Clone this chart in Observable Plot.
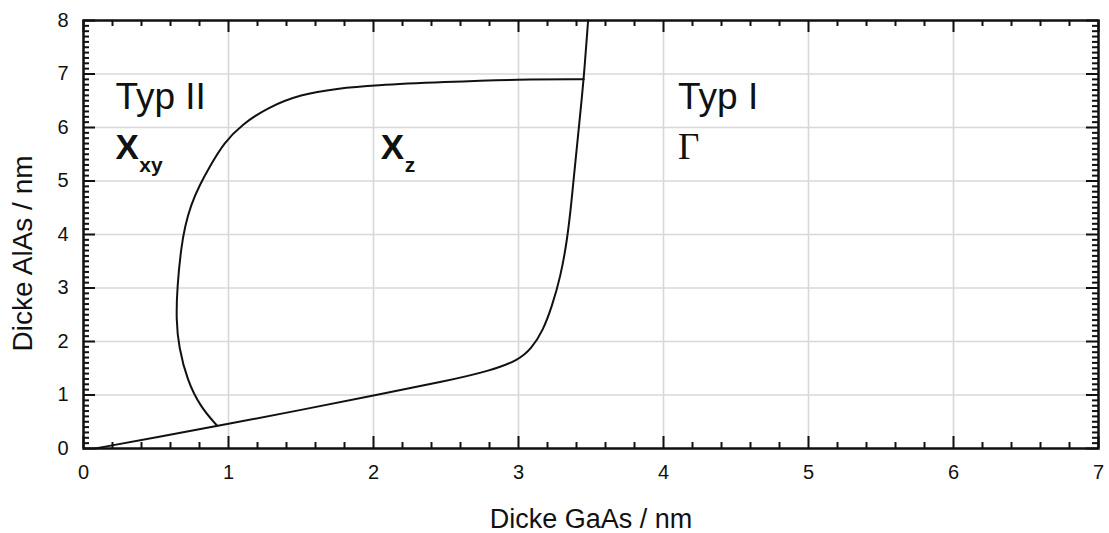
<!DOCTYPE html>
<html>
<head>
<meta charset="utf-8">
<script src="https://cdn.jsdelivr.net/npm/d3@7"></script>
<script src="https://cdn.jsdelivr.net/npm/@observablehq/plot@0.6"></script>
<style>
  html, body { margin: 0; padding: 0; background: #fff; }
  #chart svg { display: block; }
</style>
</head>
<body>
<div id="chart"></div>
<script>
// ---- data ----
const xTicks = [0, 1, 2, 3, 4, 5, 6, 7];
const yTicks = [0, 1, 2, 3, 4, 5, 6, 7, 8];
const xTitle = "Dicke GaAs / nm";
const yTitle = "Dicke AlAs / nm";

// Boundary Xxy / Xz (from junction on the lower curve up and over to the right)
const upperX = [0.92, 0.807, 0.715, 0.657, 0.639, 0.646, 0.674, 0.70, 0.74, 0.80, 0.87, 0.97, 1.09, 1.267, 1.497, 1.75, 2.0, 2.485, 3.01, 3.45];
const upperY = [0.43, 0.775, 1.275, 1.90, 2.40, 3.02, 3.77, 4.15, 4.55, 4.92, 5.27, 5.72, 6.05, 6.37, 6.62, 6.73, 6.79, 6.85, 6.90, 6.90];

// Boundary Typ II / Typ I (lower line, bend, steep rise)
const lowerX = [0.08, 0.5, 1.0, 1.5, 2.0, 2.5, 2.8, 3.0, 3.09, 3.17, 3.23, 3.29, 3.336, 3.365, 3.39, 3.42, 3.45, 3.48];
const lowerY = [0.0, 0.21, 0.46, 0.72, 0.99, 1.26, 1.45, 1.65, 1.87, 2.21, 2.65, 3.21, 3.90, 4.60, 5.30, 6.10, 6.90, 8.0];

// Region labels
const typLabels = ["Typ II", "Typ I"];
const typX = [0.22, 4.10];
const typY = [6.34, 6.34];
const bigXLabels = ["X", "X"];
const bigXX = [0.22, 2.05];
const bigXY = [5.42, 5.42];
const subLabels = ["xy", "z"];
const subX = [0.385, 2.215];
const subY = [5.17, 5.17];
const gammaLabel = ["Γ"];
const gammaX = [4.10];
const gammaY = [5.42];

// ---- build ----
const upper = upperX.map((x, i) => ({x, y: upperY[i]}));
const lower = lowerX.map((x, i) => ({x, y: lowerY[i]}));
const xMinor = d3.range(0, 36).map(i => i / 5).filter(v => !xTicks.includes(v));
const yMinor = d3.range(0, 81).map(i => i / 10).filter(v => !yTicks.includes(v));
const zip = (t, xs, ys) => t.map((text, i) => ({text, x: xs[i], y: ys[i]}));

const W = 1109, H = 533, ML = 83, MR = 11, MT = 20, MB = 85;
const innerW = W - ML - MR, innerH = H - MT - MB;
const MAJ = 12, MIN = 6;
const font = "'Liberation Sans', Arial, Helvetica, sans-serif";
const tk = {stroke: "#111", strokeWidth: 2};

const chart = Plot.plot({
  width: W,
  height: H,
  marginLeft: ML,
  marginRight: MR,
  marginTop: MT,
  marginBottom: MB,
  x: {domain: [0, 7], label: null},
  y: {domain: [0, 8], label: null},
  style: {fontFamily: font, background: "#fff", color: "#111"},
  marks: [
    Plot.gridX(xTicks, {stroke: "#d8d8d8", strokeOpacity: 1, strokeWidth: 1.6}),
    Plot.gridY(yTicks, {stroke: "#d8d8d8", strokeOpacity: 1, strokeWidth: 1.6}),
    Plot.line(upper, {x: "x", y: "y", curve: "basis", stroke: "#111", strokeWidth: 2}),
    Plot.line(lower, {x: "x", y: "y", curve: "basis", stroke: "#111", strokeWidth: 2}),
    // inward ticks on all four sides
    Plot.ruleX(xTicks, {x: d => d, insetTop: innerH - MAJ, ...tk}),
    Plot.ruleX(xMinor, {x: d => d, insetTop: innerH - MIN, ...tk}),
    Plot.ruleX(xTicks, {x: d => d, insetBottom: innerH - MAJ, ...tk}),
    Plot.ruleX(xMinor, {x: d => d, insetBottom: innerH - MIN, ...tk}),
    Plot.ruleY(yTicks, {y: d => d, insetRight: innerW - MAJ, ...tk}),
    Plot.ruleY(yMinor, {y: d => d, insetRight: innerW - MIN, ...tk}),
    Plot.ruleY(yTicks, {y: d => d, insetLeft: innerW - MAJ, ...tk}),
    Plot.ruleY(yMinor, {y: d => d, insetLeft: innerW - MIN, ...tk}),
    Plot.frame({stroke: "#111", strokeWidth: 2.5}),
    // tick labels
    Plot.axisX(xTicks, {anchor: "bottom", tickSize: 0, tickPadding: 16, fontSize: 20, label: null, tickFormat: d => String(d), fill: "#111"}),
    Plot.axisY(yTicks, {anchor: "left", tickSize: 0, tickPadding: 15, fontSize: 20, label: null, tickFormat: d => String(d), fill: "#111"}),
    // axis titles
    Plot.text([xTitle], {frameAnchor: "bottom", text: d => d, dy: 79, textAnchor: "middle", lineAnchor: "bottom", fontSize: 27, fill: "#111"}),
    Plot.text([yTitle], {frameAnchor: "left", text: d => d, dx: -71, dy: 19, rotate: -90, textAnchor: "middle", lineAnchor: "top", fontSize: 28, fill: "#111"}),
    // region labels
    Plot.text(zip(typLabels, typX, typY), {x: "x", y: "y", text: "text", textAnchor: "start", lineAnchor: "bottom", fontSize: 37, fill: "#111"}),
    Plot.text(zip(bigXLabels, bigXX, bigXY), {x: "x", y: "y", text: "text", textAnchor: "start", lineAnchor: "bottom", fontSize: 35, fontWeight: "bold", fill: "#111"}),
    Plot.text(zip(subLabels, subX, subY), {x: "x", y: "y", text: "text", textAnchor: "start", lineAnchor: "bottom", fontSize: 21, fontWeight: 600, fill: "#111"}),
    Plot.text(zip(gammaLabel, gammaX, gammaY), {x: "x", y: "y", text: "text", textAnchor: "start", lineAnchor: "bottom", fontSize: 37, fontFamily: "'Liberation Serif', 'DejaVu Serif', serif", fill: "#111"})
  ]
});
document.getElementById("chart").appendChild(chart);
</script>
</body>
</html>
